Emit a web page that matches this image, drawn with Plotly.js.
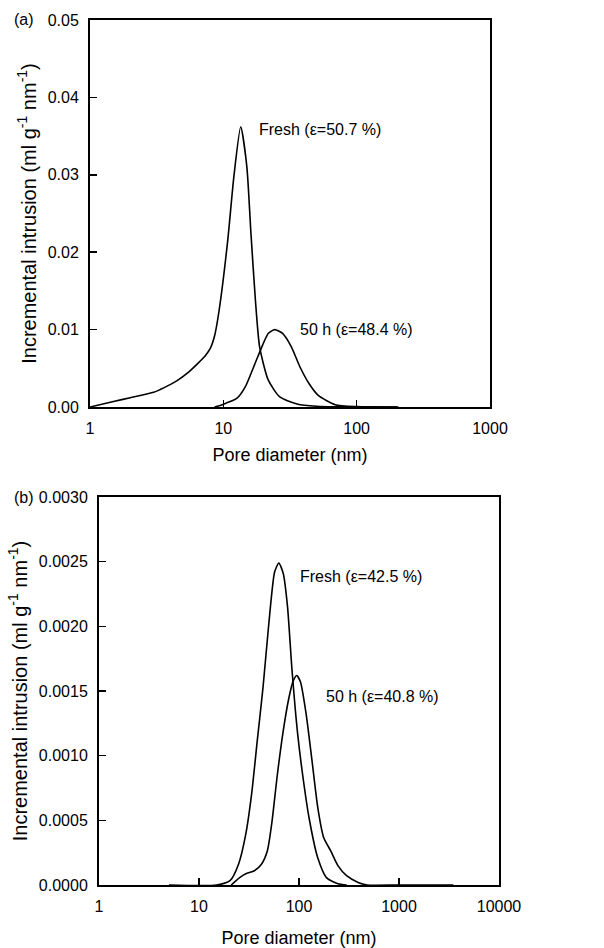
<!DOCTYPE html>
<html>
<head>
<meta charset="utf-8">
<script src="https://cdn.plot.ly/plotly-3.0.1.min.js"></script>
<style>html,body{margin:0;padding:0;background:#fff;}#chart{width:604px;height:948px;}</style>
</head>
<body>
<div id="chart"></div>
<script>
// Panel (a) data
const aFreshD = [1, 1.5, 2, 3, 3.6, 4.5, 5.4, 6.5, 7.3, 8.0, 8.6, 9.3, 10.8, 12, 13.5, 15, 16.1, 17.4, 18.7, 21.7, 26.5, 35.7, 50, 80, 200];
const aFreshV = [0, 0.0007, 0.0012, 0.0019, 0.0025, 0.0034, 0.0044, 0.0057, 0.0066, 0.0076, 0.0092, 0.0125, 0.0216, 0.0298, 0.0362, 0.0311, 0.0225, 0.0138, 0.0078, 0.0035, 0.0013, 0.0004, 0.0001, 0.00002, 0];
const a50hD = [8.6, 9.8, 12.6, 14.6, 16.9, 19.7, 21.7, 24.3, 27.8, 32.3, 37.5, 44, 51.5, 69, 100, 206];
const a50hV = [0, 0.0003, 0.0011, 0.0026, 0.0052, 0.0080, 0.0095, 0.0100, 0.0095, 0.0078, 0.0052, 0.0030, 0.0015, 0.0003, 0.00005, 0];

// Panel (b) data
const bFreshD = [5, 15, 20.4, 24.9, 29.4, 33.6, 38.3, 43.7, 49.9, 57, 62.9, 69.5, 76.8, 84.8, 96.9, 110.6, 126, 154, 188, 245, 300];
const bFreshV = [0, 0, 0.000033, 0.000163, 0.000395, 0.000704, 0.00112, 0.00153, 0.00202, 0.00242, 0.00249, 0.00241, 0.00215, 0.00168, 0.00117, 0.00081, 0.00052, 0.00021, 0.000057, 0.00001, 0];
const b50hD = [21, 25.5, 29.4, 35.8, 42.3, 48.3, 53.3, 60.9, 69.5, 79.4, 87.7, 94.9, 103.5, 118, 135, 154, 176, 207, 245, 299, 390, 480, 1000, 3500];
const b50hV = [0, 0.000057, 0.000087, 0.00011, 0.000163, 0.000265, 0.00047, 0.00086, 0.00119, 0.00145, 0.00158, 0.00162, 0.00157, 0.00132, 0.00096, 0.0006, 0.00037, 0.000265, 0.00015, 0.000072, 0.00002, 0, 0, 0];

// Tick labels
const aXTicks = [1, 10, 100, 1000];
const aYTicks = [0, 0.01, 0.02, 0.03, 0.04, 0.05];
const bXTicks = [1, 10, 100, 1000, 10000];
const bYTicks = [0, 0.0005, 0.0010, 0.0015, 0.0020, 0.0025, 0.0030];

// Labels
const aLabels = [{t: 'Fresh (\u03b5=50.7 %)', x: 17.9, y: 0.0358}, {t: '50 h (\u03b5=48.4 %)', x: 36.6, y: 0.00996}];
const bLabels = [{t: 'Fresh (\u03b5=42.5 %)', x: 98, y: 0.002386}, {t: '50 h (\u03b5=40.8 %)', x: 178, y: 0.001457}];

const W = 604, H = 948;
const FONT = 'Liberation Sans, Arial, sans-serif';
const boxA = {l: 90, r: 490, t: 20, b: 407};
const boxB = {l: 99, r: 499, t: 497, b: 885};
function dom(box) {
  return {x: [box.l / W, box.r / W], y: [1 - box.b / H, 1 - box.t / H]};
}
const dA = dom(boxA), dB = dom(boxB);

const lineStyle = {color: '#000', width: 1.6, shape: 'spline', smoothing: 0.6};
const traces = [
  {x: aFreshD, y: aFreshV, xaxis: 'x', yaxis: 'y', mode: 'lines', line: lineStyle, hoverinfo: 'skip'},
  {x: a50hD, y: a50hV, xaxis: 'x', yaxis: 'y', mode: 'lines', line: lineStyle, hoverinfo: 'skip'},
  {x: bFreshD, y: bFreshV, xaxis: 'x2', yaxis: 'y2', mode: 'lines', line: lineStyle, hoverinfo: 'skip'},
  {x: b50hD, y: b50hV, xaxis: 'x2', yaxis: 'y2', mode: 'lines', line: lineStyle, hoverinfo: 'skip'}
];

const tickFont = {family: FONT, size: 16, color: '#000'};
const xTitleFont = {family: FONT, size: 18, color: '#000'};
const yTitleFont = {family: FONT, size: 20, color: '#000'};
const annFont = {family: FONT, size: 16, color: '#000'};
const common = {
  showline: true, linecolor: '#000', linewidth: 2, mirror: true,
  ticks: 'inside', ticklen: 7, tickwidth: 1.5, tickcolor: '#000',
  showgrid: false, zeroline: false, tickfont: tickFont, fixedrange: true
};
const ytitle = 'Incremental intrusion (ml g<sup>-1</sup> nm<sup>-1</sup>)';

const annotations = [];
aLabels.forEach(l => annotations.push({xref: 'x', yref: 'y', x: Math.log10(l.x), y: l.y, text: l.t, showarrow: false, xanchor: 'left', yanchor: 'middle', font: annFont}));
bLabels.forEach(l => annotations.push({xref: 'x2', yref: 'y2', x: Math.log10(l.x), y: l.y, text: l.t, showarrow: false, xanchor: 'left', yanchor: 'middle', font: annFont}));
annotations.push({xref: 'paper', yref: 'paper', x: 12 / W, y: 1 - boxA.t / H, text: '(a)', showarrow: false, xanchor: 'left', yanchor: 'middle', font: annFont});
annotations.push({xref: 'paper', yref: 'paper', x: 12 / W, y: 1 - boxB.t / H, text: '(b)', showarrow: false, xanchor: 'left', yanchor: 'middle', font: annFont});

const layout = {
  width: W, height: H, margin: {l: 0, r: 0, t: 0, b: 0},
  paper_bgcolor: '#fff', plot_bgcolor: '#fff', showlegend: false,
  font: {family: FONT, color: '#000'},
  xaxis: Object.assign({}, common, {domain: dA.x, anchor: 'y', type: 'log', range: [0, 3], tickvals: aXTicks, ticktext: aXTicks.map(String), ticklabelstandoff: 6, title: {text: 'Pore diameter (nm)', font: xTitleFont, standoff: 12}}),
  yaxis: Object.assign({}, common, {domain: dA.y, anchor: 'x', range: [0, 0.05], tickvals: aYTicks, ticktext: aYTicks.map(v => v.toFixed(2)), ticklabelstandoff: 6, title: {text: ytitle, font: yTitleFont, standoff: 6}}),
  xaxis2: Object.assign({}, common, {domain: dB.x, anchor: 'y2', type: 'log', range: [0, 4], tickvals: bXTicks, ticktext: bXTicks.map(String), ticklabelstandoff: 6, title: {text: 'Pore diameter (nm)', font: xTitleFont, standoff: 18}}),
  yaxis2: Object.assign({}, common, {domain: dB.y, anchor: 'x2', range: [0, 0.003], tickvals: bYTicks, ticktext: bYTicks.map(v => v.toFixed(4)), ticklabelstandoff: 6, title: {text: ytitle, font: yTitleFont, standoff: 6}}),
  annotations: annotations
};

Plotly.newPlot('chart', traces, layout, {staticPlot: true, displayModeBar: false});
</script>
</body>
</html>
